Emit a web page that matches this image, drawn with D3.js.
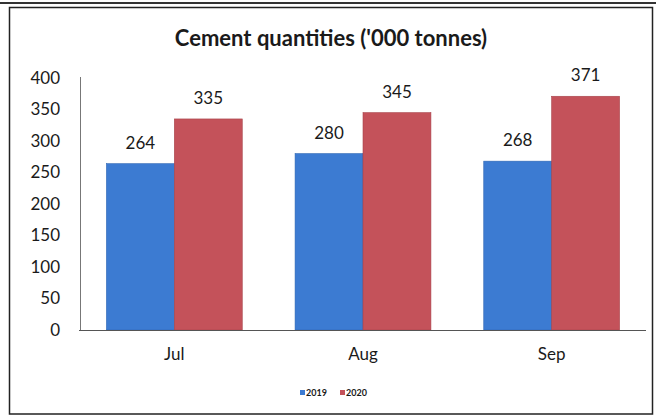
<!DOCTYPE html>
<html>
<head>
<meta charset="utf-8">
<script src="https://cdn.jsdelivr.net/npm/d3@7"></script>
<style>
  html, body { margin: 0; padding: 0; background: #fff; }
  svg { display: block; }
  text { font-family: Lato, "Open Sans", sans-serif; fill: #1a1a1a; }
</style>
</head>
<body>
<svg id="chart" width="656" height="416"></svg>
<script>
const categories = ["Jul", "Aug", "Sep"];
const seriesNames = ["2019", "2020"];
const values2019 = [264, 280, 268];
const values2020 = [335, 345, 371];
const yTicks = [0, 50, 100, 150, 200, 250, 300, 350, 400];
const title = "Cement quantities ('000 tonnes)";

const colors = { "2019": "#3c7bd2", "2020": "#c4525a" };
const strokes = { "2019": "#2f67b4", "2020": "#a8434a" };

const svg = d3.select("#chart");

// outer frame (scanned page border)
svg.append("line").attr("x1", 0).attr("x2", 656).attr("y1", 3).attr("y2", 3)
  .attr("stroke", "#333").attr("stroke-width", 2);
svg.append("rect").attr("x", 9.5).attr("y", 7.5).attr("width", 643).attr("height", 406.5)
  .attr("fill", "none").attr("stroke", "#222").attr("stroke-width", 1.5);

const plotLeft = 80, plotRight = 646, plotTop = 78, plotBottom = 330;

const x0 = d3.scaleBand().domain(categories).range([plotLeft, plotRight])
  .paddingInner(0.28).paddingOuter(0.14);
const x1 = d3.scaleBand().domain(seriesNames).range([0, x0.bandwidth()]);
const y = d3.scaleLinear().domain([0, 400]).range([plotBottom, plotTop]);

// title
svg.append("text").attr("x", 331).attr("y", 46).attr("text-anchor", "middle")
  .style("font-size", "22px").style("font-weight", "bold").text(title);

// y axis
const yAxis = d3.axisLeft(y).tickValues(yTicks).tickSize(0).tickPadding(20);
const gy = svg.append("g").attr("transform", `translate(${plotLeft},0)`).call(yAxis);
gy.select(".domain").attr("stroke", "#777").attr("stroke-width", 1).attr("d", `M0.5,${plotTop - 1}V${plotBottom}`);
gy.selectAll("text").style("font-size", "17px").style("font-family", "Lato, sans-serif").attr("fill", "#1a1a1a");

// data
const data = categories.map((c, i) => ({ cat: c, vals: [
  { s: "2019", v: values2019[i] }, { s: "2020", v: values2020[i] } ] }));

const groups = svg.append("g").selectAll("g").data(data).join("g")
  .attr("transform", d => `translate(${x0(d.cat)},0)`);

groups.selectAll("rect").data(d => d.vals).join("rect")
  .attr("x", d => x1(d.s))
  .attr("y", d => y(d.v))
  .attr("width", x1.bandwidth())
  .attr("height", d => y(0) - y(d.v))
  .attr("fill", d => colors[d.s])
  .attr("stroke", d => strokes[d.s]).attr("stroke-width", 0.6);

groups.selectAll("text.lbl").data(d => d.vals).join("text").attr("class", "lbl")
  .attr("x", d => x1(d.s) + x1.bandwidth() / 2)
  .attr("y", d => y(d.v) - 15)
  .attr("text-anchor", "middle").style("font-size", "17px")
  .text(d => d.v);

// x axis
const xAxis = d3.axisBottom(x0).tickSize(0).tickPadding(18);
const gx = svg.append("g").attr("transform", `translate(0,${plotBottom})`).call(xAxis);
gx.select(".domain").attr("stroke", "#555").attr("stroke-width", 1.2).attr("d", `M${plotLeft - 1},0.5H${plotRight}`);
gx.selectAll("text").style("font-size", "17px").style("font-family", "Lato, sans-serif").attr("fill", "#1a1a1a");

// legend
const legend = svg.append("g");
const legX = { "2019": 300, "2020": 340 };
seriesNames.forEach(s => {
  legend.append("rect").attr("x", legX[s]).attr("y", 390).attr("width", 5).attr("height", 5)
    .attr("fill", colors[s]);
  legend.append("text").attr("x", legX[s] + 6).attr("y", 395.5)
    .style("font-size", "9px").style("font-weight", "bold").text(s);
});
</script>
</body>
</html>
